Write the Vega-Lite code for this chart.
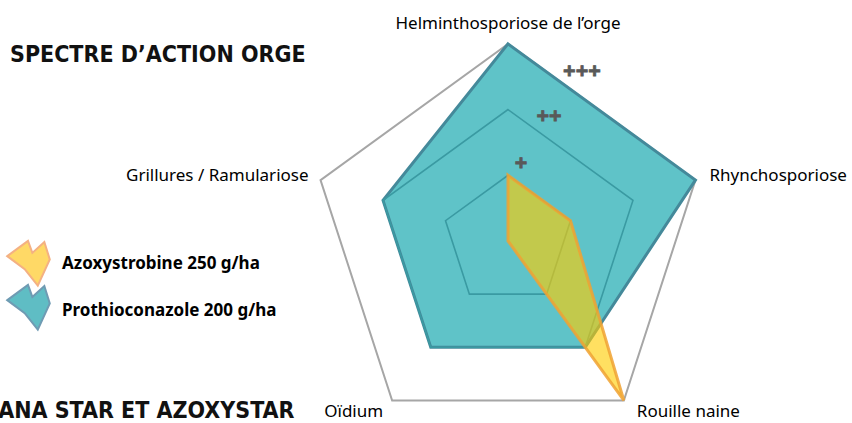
{
  "$schema": "https://vega.github.io/schema/vega-lite/v6.json",
  "width": 852,
  "height": 423,
  "padding": 0,
  "autosize": {"type": "none"},
  "background": "white",
  "config": {"view": {"stroke": null}},
  "datasets": {
    "scores": [
      {"produit": "Prothioconazole 200 g/ha", "maladie": "Helminthosporiose de l’orge", "i": 0, "niveau": 3},
      {"produit": "Prothioconazole 200 g/ha", "maladie": "Rhynchosporiose", "i": 1, "niveau": 3},
      {"produit": "Prothioconazole 200 g/ha", "maladie": "Rouille naine", "i": 2, "niveau": 2},
      {"produit": "Prothioconazole 200 g/ha", "maladie": "Oïdium", "i": 3, "niveau": 2},
      {"produit": "Prothioconazole 200 g/ha", "maladie": "Grillures / Ramulariose", "i": 4, "niveau": 2},
      {"produit": "Azoxystrobine 250 g/ha", "maladie": "Helminthosporiose de l’orge", "i": 0, "niveau": 1},
      {"produit": "Azoxystrobine 250 g/ha", "maladie": "Rhynchosporiose", "i": 1, "niveau": 1},
      {"produit": "Azoxystrobine 250 g/ha", "maladie": "Rouille naine", "i": 2, "niveau": 3},
      {"produit": "Azoxystrobine 250 g/ha", "maladie": "Oïdium", "i": 3, "niveau": 0},
      {"produit": "Azoxystrobine 250 g/ha", "maladie": "Grillures / Ramulariose", "i": 4, "niveau": 0}
    ],
    "grille": [
      {"niveau": 1, "i": 0}, {"niveau": 1, "i": 1}, {"niveau": 1, "i": 2}, {"niveau": 1, "i": 3}, {"niveau": 1, "i": 4},
      {"niveau": 2, "i": 0}, {"niveau": 2, "i": 1}, {"niveau": 2, "i": 2}, {"niveau": 2, "i": 3}, {"niveau": 2, "i": 4},
      {"niveau": 3, "i": 0}, {"niveau": 3, "i": 1}, {"niveau": 3, "i": 2}, {"niveau": 3, "i": 3}, {"niveau": 3, "i": 4}
    ],
    "axes": [
      {"maladie": "Helminthosporiose de l’orge", "i": 0, "niveau": 3},
      {"maladie": "Rhynchosporiose", "i": 1, "niveau": 3},
      {"maladie": "Rouille naine", "i": 2, "niveau": 3},
      {"maladie": "Oïdium", "i": 3, "niveau": 3},
      {"maladie": "Grillures / Ramulariose", "i": 4, "niveau": 3}
    ]
  },
  "layer": [
    {
      "data": {"name": "grille"},
      "transform": [
        {"filter": "datum.niveau === 3"},
        {"calculate": "datum.niveau*cos(PI/2 - datum.i*2*PI/5)", "as": "px"},
        {"calculate": "datum.niveau*sin(PI/2 - datum.i*2*PI/5)", "as": "py"}
      ],
      "mark": {"type": "line", "interpolate": "linear-closed", "stroke": "#a6a6a6", "strokeWidth": 2},
      "encoding": {
        "x": {"field": "px", "type": "quantitative", "scale": {"domain": [-7.732, 5.236], "nice": false, "zero": false}, "axis": null},
        "y": {"field": "py", "type": "quantitative", "scale": {"domain": [-2.77, 3.668], "nice": false, "zero": false}, "axis": null},
        "order": {"field": "i"}
      }
    },
    {
      "data": {"name": "scores"},
      "transform": [
        {"filter": "datum.produit === 'Prothioconazole 200 g/ha'"},
        {"calculate": "datum.niveau*cos(PI/2 - datum.i*2*PI/5)", "as": "px"},
        {"calculate": "datum.niveau*sin(PI/2 - datum.i*2*PI/5)", "as": "py"}
      ],
      "mark": {"type": "line", "interpolate": "linear-closed", "fill": "#5fc3c8", "fillOpacity": 1, "stroke": "#44899a", "strokeWidth": 3, "strokeJoin": "miter"},
      "encoding": {
        "x": {"field": "px", "type": "quantitative", "scale": {"domain": [-7.732, 5.236], "nice": false, "zero": false}, "axis": null},
        "y": {"field": "py", "type": "quantitative", "scale": {"domain": [-2.77, 3.668], "nice": false, "zero": false}, "axis": null},
        "order": {"field": "i"}
      }
    },
    {
      "data": {"name": "grille"},
      "transform": [
        {"filter": "datum.niveau < 3"},
        {"calculate": "datum.niveau*cos(PI/2 - datum.i*2*PI/5)", "as": "px"},
        {"calculate": "datum.niveau*sin(PI/2 - datum.i*2*PI/5)", "as": "py"}
      ],
      "mark": {"type": "line", "interpolate": "linear-closed", "stroke": "#3a9aa2", "strokeWidth": 1.6},
      "encoding": {
        "x": {"field": "px", "type": "quantitative", "scale": {"domain": [-7.732, 5.236], "nice": false, "zero": false}, "axis": null},
        "y": {"field": "py", "type": "quantitative", "scale": {"domain": [-2.77, 3.668], "nice": false, "zero": false}, "axis": null},
        "detail": {"field": "niveau", "type": "nominal"},
        "order": {"field": "i"}
      }
    },
    {
      "data": {"name": "scores"},
      "transform": [
        {"filter": "datum.produit === 'Azoxystrobine 250 g/ha'"},
        {"calculate": "datum.niveau*cos(PI/2 - datum.i*2*PI/5)", "as": "px"},
        {"calculate": "datum.niveau*sin(PI/2 - datum.i*2*PI/5)", "as": "py"}
      ],
      "mark": {"type": "line", "interpolate": "linear-closed", "fill": "#ffcd00", "fillOpacity": 0.62, "stroke": "#f0a232", "strokeOpacity": 0.85, "strokeWidth": 3, "strokeJoin": "miter"},
      "encoding": {
        "x": {"field": "px", "type": "quantitative", "scale": {"domain": [-7.732, 5.236], "nice": false, "zero": false}, "axis": null},
        "y": {"field": "py", "type": "quantitative", "scale": {"domain": [-2.77, 3.668], "nice": false, "zero": false}, "axis": null},
        "order": {"field": "i"}
      }
    },
    {
      "data": {"name": "axes"},
      "transform": [
        {"filter": "datum.i === 0"},
        {"calculate": "datum.niveau*cos(PI/2 - datum.i*2*PI/5)", "as": "px"},
        {"calculate": "datum.niveau*sin(PI/2 - datum.i*2*PI/5)", "as": "py"}
      ],
      "mark": {"type": "text", "font": "Noto Sans", "fontSize": 17, "color": "#000000", "align": "center", "baseline": "middle", "dy": -20},
      "encoding": {
        "x": {"field": "px", "type": "quantitative", "scale": {"domain": [-7.732, 5.236], "nice": false, "zero": false}, "axis": null},
        "y": {"field": "py", "type": "quantitative", "scale": {"domain": [-2.77, 3.668], "nice": false, "zero": false}, "axis": null},
        "text": {"field": "maladie"}
      }
    },
    {
      "data": {"name": "axes"},
      "transform": [
        {"filter": "datum.i === 1"},
        {"calculate": "datum.niveau*cos(PI/2 - datum.i*2*PI/5)", "as": "px"},
        {"calculate": "datum.niveau*sin(PI/2 - datum.i*2*PI/5)", "as": "py"}
      ],
      "mark": {"type": "text", "font": "Noto Sans", "fontSize": 17, "color": "#000000", "align": "left", "baseline": "middle", "dx": 14, "dy": -4},
      "encoding": {
        "x": {"field": "px", "type": "quantitative", "scale": {"domain": [-7.732, 5.236], "nice": false, "zero": false}, "axis": null},
        "y": {"field": "py", "type": "quantitative", "scale": {"domain": [-2.77, 3.668], "nice": false, "zero": false}, "axis": null},
        "text": {"field": "maladie"}
      }
    },
    {
      "data": {"name": "axes"},
      "transform": [
        {"filter": "datum.i === 2"},
        {"calculate": "datum.niveau*cos(PI/2 - datum.i*2*PI/5)", "as": "px"},
        {"calculate": "datum.niveau*sin(PI/2 - datum.i*2*PI/5)", "as": "py"}
      ],
      "mark": {"type": "text", "font": "Noto Sans", "fontSize": 17, "color": "#000000", "align": "left", "baseline": "middle", "dx": 13, "dy": 12},
      "encoding": {
        "x": {"field": "px", "type": "quantitative", "scale": {"domain": [-7.732, 5.236], "nice": false, "zero": false}, "axis": null},
        "y": {"field": "py", "type": "quantitative", "scale": {"domain": [-2.77, 3.668], "nice": false, "zero": false}, "axis": null},
        "text": {"field": "maladie"}
      }
    },
    {
      "data": {"name": "axes"},
      "transform": [
        {"filter": "datum.i === 3"},
        {"calculate": "datum.niveau*cos(PI/2 - datum.i*2*PI/5)", "as": "px"},
        {"calculate": "datum.niveau*sin(PI/2 - datum.i*2*PI/5)", "as": "py"}
      ],
      "mark": {"type": "text", "font": "Noto Sans", "fontSize": 17, "color": "#000000", "align": "right", "baseline": "middle", "dx": -9, "dy": 12},
      "encoding": {
        "x": {"field": "px", "type": "quantitative", "scale": {"domain": [-7.732, 5.236], "nice": false, "zero": false}, "axis": null},
        "y": {"field": "py", "type": "quantitative", "scale": {"domain": [-2.77, 3.668], "nice": false, "zero": false}, "axis": null},
        "text": {"field": "maladie"}
      }
    },
    {
      "data": {"name": "axes"},
      "transform": [
        {"filter": "datum.i === 4"},
        {"calculate": "datum.niveau*cos(PI/2 - datum.i*2*PI/5)", "as": "px"},
        {"calculate": "datum.niveau*sin(PI/2 - datum.i*2*PI/5)", "as": "py"}
      ],
      "mark": {"type": "text", "font": "Noto Sans", "fontSize": 17, "color": "#000000", "align": "right", "baseline": "middle", "dx": -12, "dy": -4},
      "encoding": {
        "x": {"field": "px", "type": "quantitative", "scale": {"domain": [-7.732, 5.236], "nice": false, "zero": false}, "axis": null},
        "y": {"field": "py", "type": "quantitative", "scale": {"domain": [-2.77, 3.668], "nice": false, "zero": false}, "axis": null},
        "text": {"field": "maladie"}
      }
    },
    {
      "data": {"values": [{}]},
      "mark": {"type": "text", "font": "Noto Sans", "fontWeight": "bold", "fontSize": 22, "color": "#595959", "stroke": "#595959", "strokeWidth": 0.8, "align": "center", "baseline": "middle"},
      "encoding": {
        "x": {"datum": 0.198, "type": "quantitative", "scale": {"domain": [-7.732, 5.236], "nice": false, "zero": false}, "axis": null},
        "y": {"datum": 1.18, "type": "quantitative", "scale": {"domain": [-2.77, 3.668], "nice": false, "zero": false}, "axis": null},
        "text": {"value": "+"}
      }
    },
    {
      "data": {"values": [{}]},
      "mark": {"type": "text", "font": "Noto Sans", "fontWeight": "bold", "fontSize": 22, "color": "#595959", "stroke": "#595959", "strokeWidth": 0.8, "align": "center", "baseline": "middle"},
      "encoding": {
        "x": {"datum": 0.624, "type": "quantitative", "scale": {"domain": [-7.732, 5.236], "nice": false, "zero": false}, "axis": null},
        "y": {"datum": 1.9, "type": "quantitative", "scale": {"domain": [-2.77, 3.668], "nice": false, "zero": false}, "axis": null},
        "text": {"value": "++"}
      }
    },
    {
      "data": {"values": [{}]},
      "mark": {"type": "text", "font": "Noto Sans", "fontWeight": "bold", "fontSize": 22, "color": "#595959", "stroke": "#595959", "strokeWidth": 0.8, "align": "center", "baseline": "middle"},
      "encoding": {
        "x": {"datum": 1.126, "type": "quantitative", "scale": {"domain": [-7.732, 5.236], "nice": false, "zero": false}, "axis": null},
        "y": {"datum": 2.585, "type": "quantitative", "scale": {"domain": [-2.77, 3.668], "nice": false, "zero": false}, "axis": null},
        "text": {"value": "+++"}
      }
    },
    {
      "data": {"values": [{}]},
      "mark": {"type": "text", "font": "DejaVu Sans Condensed, Liberation Sans, sans-serif", "fontWeight": "bold", "fontSize": 23, "color": "#111111", "align": "left", "baseline": "middle"},
      "encoding": {
        "x": {"datum": -7.58, "type": "quantitative", "scale": {"domain": [-7.732, 5.236], "nice": false, "zero": false}, "axis": null},
        "y": {"datum": 2.831, "type": "quantitative", "scale": {"domain": [-2.77, 3.668], "nice": false, "zero": false}, "axis": null},
        "text": {"value": "SPECTRE D’ACTION ORGE"}
      }
    },
    {
      "data": {"values": [{}]},
      "mark": {"type": "text", "font": "DejaVu Sans Condensed, Liberation Sans, sans-serif", "fontWeight": "bold", "fontSize": 23, "color": "#111111", "align": "left", "baseline": "top"},
      "encoding": {
        "x": {"datum": -7.76, "type": "quantitative", "scale": {"domain": [-7.732, 5.236], "nice": false, "zero": false}, "axis": null},
        "y": {"datum": -2.42, "type": "quantitative", "scale": {"domain": [-2.77, 3.668], "nice": false, "zero": false}, "axis": null},
        "text": {"value": "ANA STAR ET AZOXYSTAR"}
      }
    },
    {
      "data": {"values": [{}]},
      "mark": {"type": "point", "filled": true, "shape": "M -0.95 -0.3 L 0.0 -1 L 0.2 -0.45 L 0.75 -0.95 L 1 -0.15 L 0.45 1.05 L -0.15 0.3 Z", "size": 1900, "fill": "#ffd966", "stroke": "#f4b183", "strokeWidth": 2, "opacity": 1},
      "encoding": {
        "x": {"datum": -7.306, "type": "quantitative", "scale": {"domain": [-7.732, 5.236], "nice": false, "zero": false}, "axis": null},
        "y": {"datum": -0.33, "type": "quantitative", "scale": {"domain": [-2.77, 3.668], "nice": false, "zero": false}, "axis": null}
      }
    },
    {
      "data": {"values": [{}]},
      "mark": {"type": "point", "filled": true, "shape": "M -0.95 -0.3 L 0.0 -1 L 0.2 -0.45 L 0.75 -0.95 L 1 -0.15 L 0.45 1.05 L -0.15 0.3 Z", "size": 1900, "fill": "#5fbdc4", "stroke": "#6f9bb3", "strokeWidth": 2, "opacity": 1},
      "encoding": {
        "x": {"datum": -7.306, "type": "quantitative", "scale": {"domain": [-7.732, 5.236], "nice": false, "zero": false}, "axis": null},
        "y": {"datum": -1.0, "type": "quantitative", "scale": {"domain": [-2.77, 3.668], "nice": false, "zero": false}, "axis": null}
      }
    },
    {
      "data": {"values": [{}]},
      "mark": {"type": "text", "font": "Noto Sans", "fontWeight": "bold", "fontSize": 17, "color": "#000000", "align": "left", "baseline": "middle"},
      "encoding": {
        "x": {"datum": -6.788, "type": "quantitative", "scale": {"domain": [-7.732, 5.236], "nice": false, "zero": false}, "axis": null},
        "y": {"datum": -0.35, "type": "quantitative", "scale": {"domain": [-2.77, 3.668], "nice": false, "zero": false}, "axis": null},
        "text": {"value": "Azoxystrobine 250 g/ha"}
      }
    },
    {
      "data": {"values": [{}]},
      "mark": {"type": "text", "font": "Noto Sans", "fontWeight": "bold", "fontSize": 17, "color": "#000000", "align": "left", "baseline": "middle"},
      "encoding": {
        "x": {"datum": -6.788, "type": "quantitative", "scale": {"domain": [-7.732, 5.236], "nice": false, "zero": false}, "axis": null},
        "y": {"datum": -1.065, "type": "quantitative", "scale": {"domain": [-2.77, 3.668], "nice": false, "zero": false}, "axis": null},
        "text": {"value": "Prothioconazole 200 g/ha"}
      }
    }
  ]
}
